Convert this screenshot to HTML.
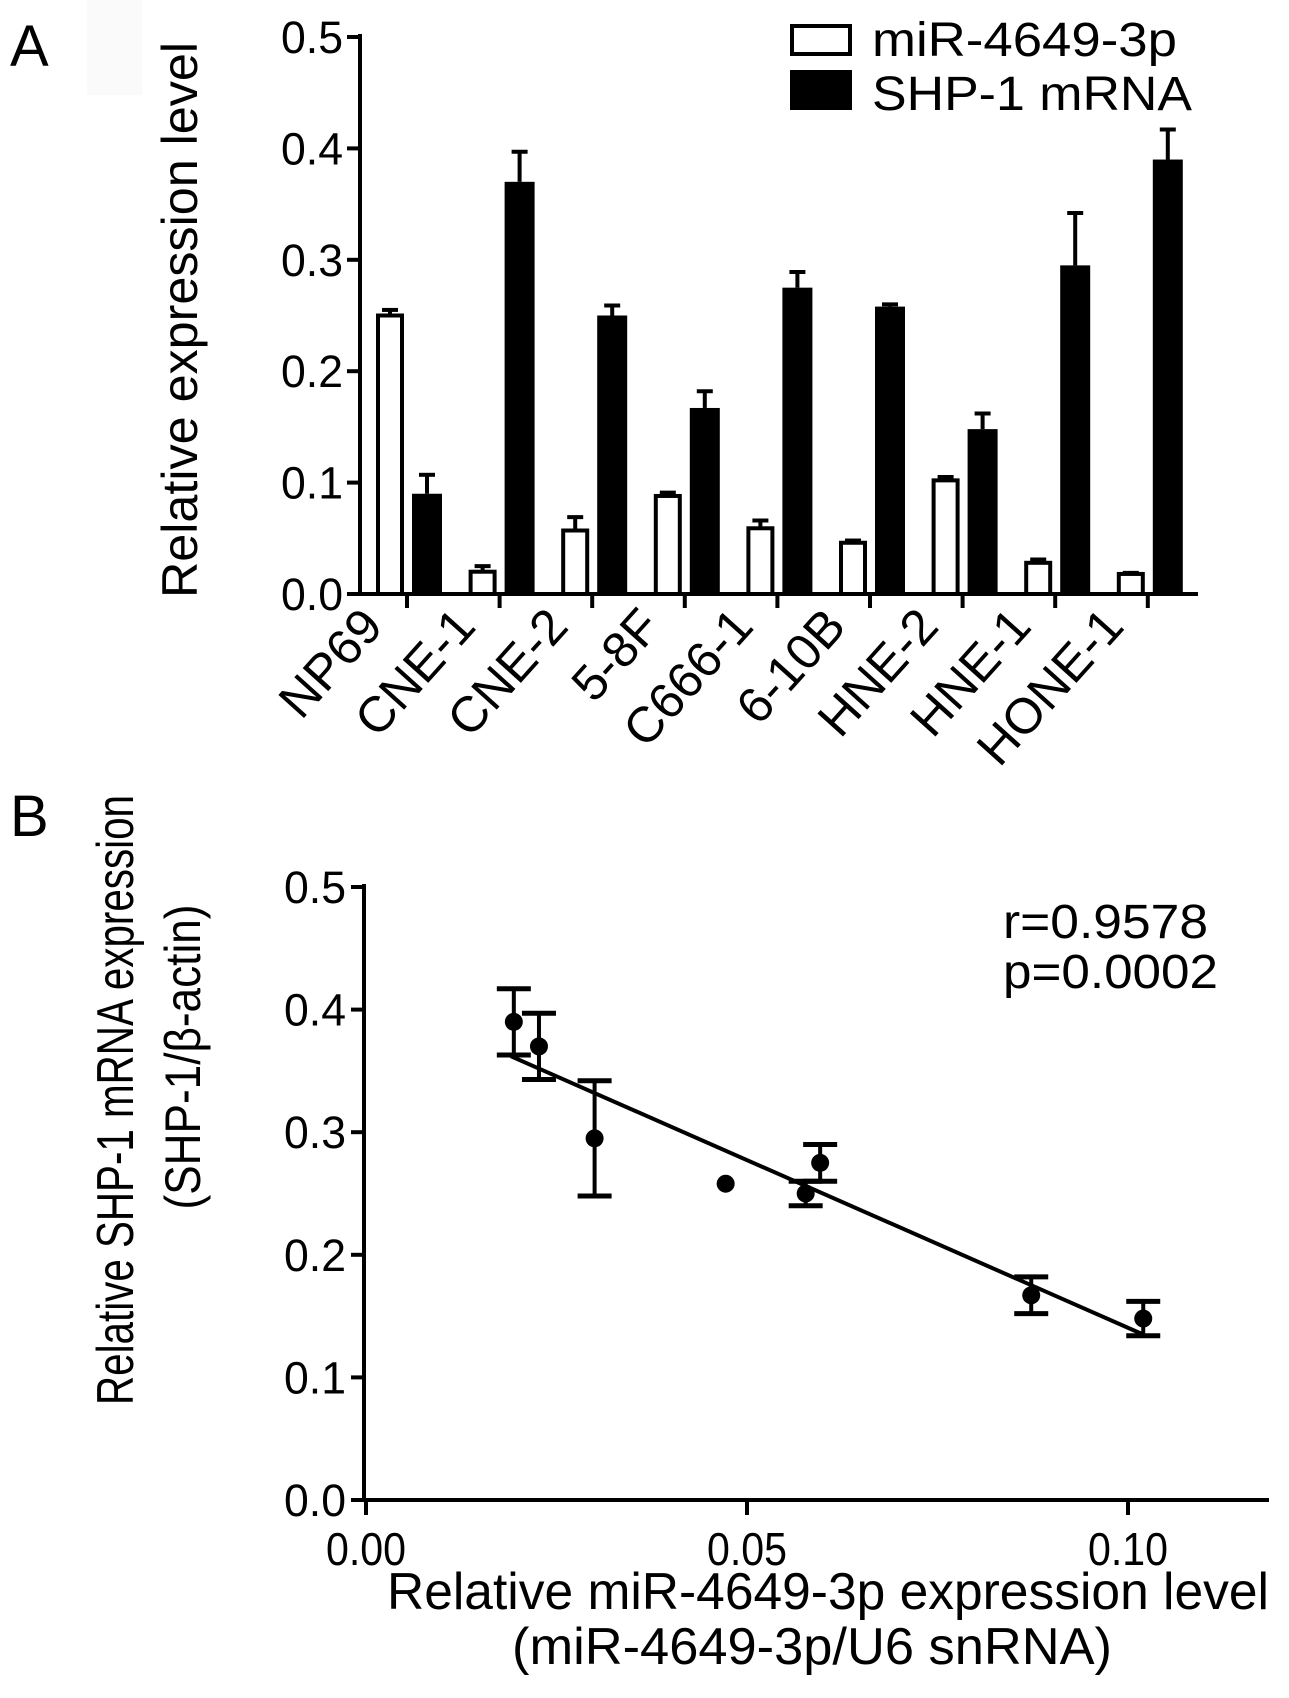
<!DOCTYPE html>
<html><head><meta charset="utf-8"><style>
html,body{margin:0;padding:0;background:#fff;}
svg{display:block;font-family:"Liberation Sans",Arial,sans-serif;}
</style></head><body>
<svg id="fig" width="1289" height="1698" viewBox="0 0 1289 1698">
<rect x="87" y="0" width="55" height="95" fill="#fafafa"/>
<text x="10" y="66" font-size="58">A</text>
<text x="10" y="836" font-size="58">B</text>
<g id="chartA"></g>
<g id="chartB"></g>
</svg>
<script>
const categories = ["NP69","CNE-1","CNE-2","5-8F","C666-1","6-10B","HNE-2","HNE-1","HONE-1"];
const mirValues = [0.25,0.02,0.057,0.088,0.059,0.046,0.102,0.028,0.018];
const mirErr = [0.005,0.005,0.012,0.003,0.007,0.002,0.003,0.003,0.001];
const shpValues = [0.09,0.37,0.25,0.167,0.275,0.258,0.148,0.295,0.39];
const shpErr = [0.017,0.027,0.009,0.015,0.014,0.002,0.014,0.047,0.027];
const yTicksA = ["0.0","0.1","0.2","0.3","0.4","0.5"];

const scX = [0.0194,0.0227,0.030,0.0472,0.0577,0.0596,0.0873,0.102];
const scY = [0.39,0.37,0.295,0.258,0.25,0.275,0.167,0.148];
const scErr = [0.027,0.027,0.047,0.002,0.01,0.015,0.015,0.014];
const fitX = [0.019,0.102];
const fitY = [0.362,0.135];
const xTicksB = ["0.00","0.05","0.10"];
const yTicksB = ["0.0","0.1","0.2","0.3","0.4","0.5"];

const NS="http://www.w3.org/2000/svg";
function mk(parent,tag,attrs,text){const e=document.createElementNS(NS,tag);for(const k in attrs)e.setAttribute(k,attrs[k]);if(text!==undefined)e.textContent=text;parent.appendChild(e);return e;}

// ---------- Chart A ----------
const A=document.getElementById('chartA');
const ayA=v=>594-v*1114;
const axA=i=>407+i*92.6;
let e;
e=mk(A,'line',{x1:360,y1:34,x2:360,y2:596,stroke:'#000','stroke-width':4});


e=mk(A,'line',{x1:358,y1:594,x2:1198,y2:594,stroke:'#000','stroke-width':4});


yTicksA.forEach((t,i)=>{const v=parseFloat(t);const y=ayA(v);
 mk(A,'line',{x1:347,y1:y,x2:360,y2:y,stroke:'#000','stroke-width':4});
 e=mk(A,'text',{x:343,y:y+16,'font-size':45,'text-anchor':'end',textLength:62,lengthAdjust:'spacingAndGlyphs'},t);
 
 
});
e=mk(A,'text',{transform:'translate(197,320) rotate(-90)','font-size':50,'text-anchor':'middle',textLength:556,lengthAdjust:'spacingAndGlyphs'},'Relative expression level');


categories.forEach((c,i)=>{const x=axA(i);
 mk(A,'line',{x1:x,y1:594,x2:x,y2:608,stroke:'#000','stroke-width':4});
 const y1=ayA(mirValues[i]);const ye1=ayA(mirValues[i]+mirErr[i]);
 mk(A,'line',{x1:x-17,y1:ye1,x2:x-17,y2:y1,stroke:'#000','stroke-width':4});
 mk(A,'line',{x1:x-25,y1:ye1,x2:x-9,y2:ye1,stroke:'#000','stroke-width':4});
 e=mk(A,'rect',{x:x-29,y:y1,width:24,height:594-y1,fill:'#fff',stroke:'#000','stroke-width':4});
 
 
 const y2=ayA(shpValues[i]);const ye2=ayA(shpValues[i]+shpErr[i]);
 mk(A,'line',{x1:x+20,y1:ye2,x2:x+20,y2:y2,stroke:'#000','stroke-width':4});
 mk(A,'line',{x1:x+12,y1:ye2,x2:x+28,y2:ye2,stroke:'#000','stroke-width':4});
 e=mk(A,'rect',{x:x+5,y:y2,width:30,height:594-y2,fill:'#000'});
 
 
 e=mk(A,'text',{transform:`translate(${x-22},628) rotate(-48)`,'font-size':50,'text-anchor':'end'},c);
 
 
});
e=mk(A,'rect',{x:792,y:26,width:58,height:28,fill:'#fff',stroke:'#000','stroke-width':4});


e=mk(A,'text',{x:872,y:56,'font-size':48,textLength:305,lengthAdjust:'spacingAndGlyphs'},'miR-4649-3p');


e=mk(A,'rect',{x:790,y:70,width:62,height:40,fill:'#000'});


e=mk(A,'text',{x:872,y:110,'font-size':48,textLength:320,lengthAdjust:'spacingAndGlyphs'},'SHP-1 mRNA');



// ---------- Chart B ----------
const B=document.getElementById('chartB');
const axB=v=>366+v*7620;
const ayB=v=>1500-v*1226;
e=mk(B,'line',{x1:364,y1:884,x2:364,y2:1502,stroke:'#000','stroke-width':4});


e=mk(B,'line',{x1:362,y1:1500,x2:1269,y2:1500,stroke:'#000','stroke-width':4});


yTicksB.forEach(t=>{const y=ayB(parseFloat(t));
 mk(B,'line',{x1:351,y1:y,x2:364,y2:y,stroke:'#000','stroke-width':4});
 e=mk(B,'text',{x:346,y:y+16,'font-size':45,'text-anchor':'end',textLength:62,lengthAdjust:'spacingAndGlyphs'},t);
 
 
});
xTicksB.forEach(t=>{const x=axB(parseFloat(t));
 mk(B,'line',{x1:x,y1:1500,x2:x,y2:1515,stroke:'#000','stroke-width':4});
 e=mk(B,'text',{x:x,y:1565,'font-size':46,'text-anchor':'middle',textLength:80,lengthAdjust:'spacingAndGlyphs'},t);
 
 
});
e=mk(B,'line',{x1:axB(fitX[0]),y1:ayB(fitY[0]),x2:axB(fitX[1]),y2:ayB(fitY[1]),stroke:'#000','stroke-width':4});


scX.forEach((xv,i)=>{const x=axB(xv),y=ayB(scY[i]);
 if(scErr[i]>0.004){const t=ayB(scY[i]+scErr[i]),b=ayB(scY[i]-scErr[i]);
  mk(B,'line',{x1:x,y1:t,x2:x,y2:b,stroke:'#000','stroke-width':4});
  mk(B,'line',{x1:x-17,y1:t,x2:x+17,y2:t,stroke:'#000','stroke-width':5});
  mk(B,'line',{x1:x-17,y1:b,x2:x+17,y2:b,stroke:'#000','stroke-width':5});}
 e=mk(B,'circle',{cx:x,cy:y,r:9,fill:'#000'});
 
 
});
e=mk(B,'text',{x:1003,y:938,'font-size':48,textLength:205,lengthAdjust:'spacingAndGlyphs'},'r=0.9578');


e=mk(B,'text',{x:1003,y:988,'font-size':48,textLength:215,lengthAdjust:'spacingAndGlyphs'},'p=0.0002');


e=mk(B,'text',{transform:'translate(133,1100) rotate(-90)','font-size':52,'text-anchor':'middle',textLength:610,lengthAdjust:'spacingAndGlyphs'},'Relative SHP-1 mRNA expression');


e=mk(B,'text',{transform:'translate(200,1057) rotate(-90)','font-size':50,'text-anchor':'middle',textLength:305,lengthAdjust:'spacingAndGlyphs'},'(SHP-1/β-actin)');


e=mk(B,'text',{x:828,y:1609,'font-size':52,'text-anchor':'middle',textLength:882,lengthAdjust:'spacingAndGlyphs'},'Relative miR-4649-3p expression level');


e=mk(B,'text',{x:812,y:1664,'font-size':52,'text-anchor':'middle',textLength:600,lengthAdjust:'spacingAndGlyphs'},'(miR-4649-3p/U6 snRNA)');


</script>
</body></html>
